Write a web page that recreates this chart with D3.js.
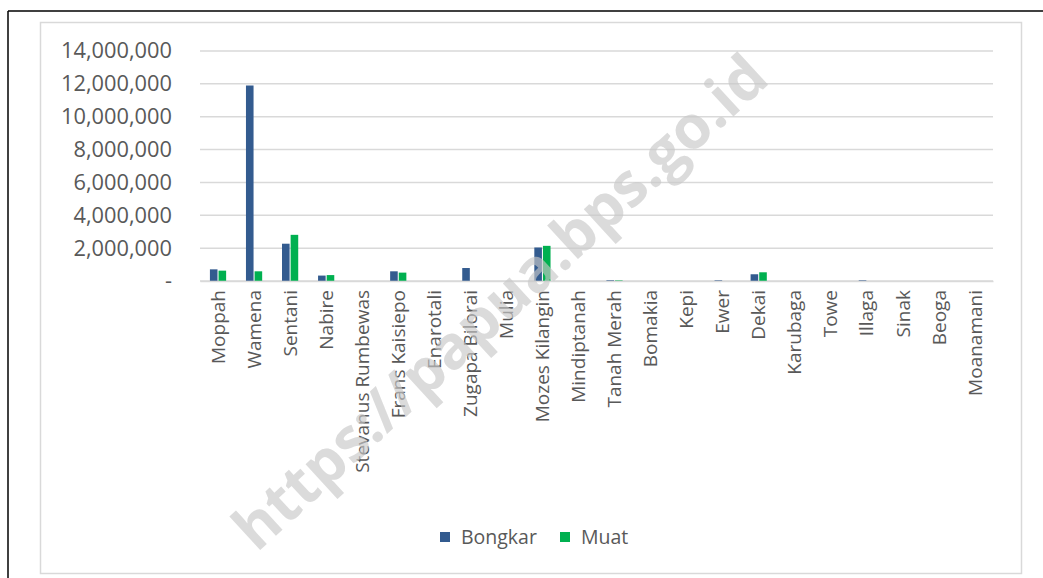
<!DOCTYPE html>
<html>
<head>
<meta charset="utf-8">
<script src="https://cdn.jsdelivr.net/npm/d3@7"></script>
<style>
  body { margin: 0; background: #fff; }
  text { font-family: "Open Sans", sans-serif; }
</style>
</head>
<body>
<script>
// data
let ports = ['Moppah', 'Wamena', 'Sentani', 'Nabire', 'Stevanus Rumbewas', 'Frans Kaisiepo', 'Enarotali',
  'Zugapa Bilorai', 'Mulia', 'Mozes Kilangin', 'Mindiptanah', 'Tanah Merah', 'Bomakia', 'Kepi', 'Ewer',
  'Dekai', 'Karubaga', 'Towe', 'Illaga', 'Sinak', 'Beoga', 'Moanamani']
let bongkar = [710000, 11900000, 2270000, 330000, 0, 590000, 0, 790000, 0, 2040000, 0, 45000, 0, 0, 40000,
  410000, 0, 0, 40000, 0, 0, 0]
let muat = [630000, 590000, 2810000, 360000, 0, 510000, 0, 0, 0, 2140000, 0, 35000, 0, 0, 0,
  530000, 0, 0, 0, 0, 0, 0]
let seriesNames = ['Bongkar', 'Muat']
let yTicks = [0, 2000000, 4000000, 6000000, 8000000, 10000000, 12000000, 14000000]

let width = 1043, height = 578
let colors = {Bongkar: '#335b8f', Muat: '#00b050'}

let svg = d3.select('body').append('svg').attr('width', width).attr('height', height)

// frames
svg.append('line').attr('x1', 8).attr('y1', 11).attr('x2', width).attr('y2', 11)
  .attr('stroke', '#000').attr('stroke-width', 1.5)
svg.append('line').attr('x1', 8).attr('y1', 11).attr('x2', 8).attr('y2', height)
  .attr('stroke', '#000').attr('stroke-width', 1.5)
svg.append('rect').attr('x', 40.5).attr('y', 22.5).attr('width', 981).attr('height', 551)
  .attr('fill', 'none').attr('stroke', '#d9d9d9').attr('stroke-width', 1.5)

let yScale = d3.scaleLinear().domain([0, 14000000]).range([281, 51])
let xScale = d3.scaleBand().domain(ports).range([200, 993])
let xInner = d3.scaleBand().domain(seriesNames).range([0, xScale.bandwidth()]).paddingInner(0.12).paddingOuter(1.15)

// gridlines
svg.append('g').selectAll('line').data(yTicks).enter().append('line')
  .attr('x1', 200).attr('x2', 993)
  .attr('y1', d => yScale(d)).attr('y2', d => yScale(d))
  .attr('stroke', '#d9d9d9').attr('stroke-width', 1.5)

// y axis
let yAxis = svg.append('g').attr('transform', 'translate(172,0)')
  .call(d3.axisLeft(yScale).tickValues(yTicks).tickSize(0).tickPadding(0)
    .tickFormat(d => d === 0 ? '-' : d3.format(',')(d)))
yAxis.select('.domain').remove()
yAxis.selectAll('text').attr('fill', '#595959').style('font-size', '21.8px').attr('font-family', '"Open Sans", sans-serif')

// bars
let groups = svg.append('g').selectAll('g').data(ports).enter().append('g')
  .attr('transform', d => `translate(${xScale(d)},0)`)
groups.selectAll('rect')
  .data((d, i) => [{s: 'Bongkar', v: bongkar[i]}, {s: 'Muat', v: muat[i]}])
  .enter().append('rect')
  .attr('x', d => xInner(d.s)).attr('width', xInner.bandwidth())
  .attr('y', d => yScale(d.v)).attr('height', d => yScale(0) - yScale(d.v))
  .attr('fill', d => colors[d.s])

// x axis
let xAxis = svg.append('g').attr('transform', `translate(0,${yScale(0)})`)
  .call(d3.axisBottom(xScale).tickSize(0).tickPadding(0))
xAxis.select('.domain').attr('stroke', '#d9d9d9').attr('stroke-width', 1.5)
xAxis.selectAll('text')
  .attr('fill', '#595959').style('font-size', '19px').attr('font-family', '"Open Sans", sans-serif')
  .attr('transform', 'rotate(-90)').attr('text-anchor', 'end')
  .attr('x', -9).attr('y', 0).attr('dy', '0.35em')

// legend
let legend = svg.append('g').attr('transform', 'translate(440,537)')
let legendX = [0, 120]
seriesNames.forEach((s, i) => {
  legend.append('rect').attr('x', legendX[i]).attr('y', -5).attr('width', 10).attr('height', 10).attr('fill', colors[s])
  legend.append('text').attr('x', legendX[i] + 21).attr('y', 0).attr('dy', '0.35em')
    .attr('fill', '#595959').style('font-size', '19.5px').text(s)
})

// watermark
svg.append('text').attr('transform', 'translate(500,302) rotate(-42.5)')
  .attr('text-anchor', 'middle').attr('dy', '0.35em')
  .style('font-size', '60px').style('font-weight', 'bold')
  .attr('fill', '#c8c8c8').attr('fill-opacity', 0.65)
  .text('https://papua.bps.go.id')
</script>
</body>
</html>
